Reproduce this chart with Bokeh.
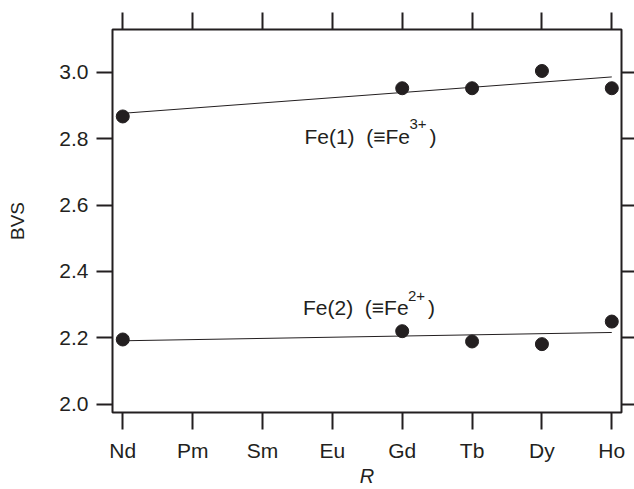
import numpy as np
from bokeh.plotting import figure
from bokeh.models import LinearAxis, FixedTicker, Range1d
from bokeh.core.properties import value
from bokeh.embed import file_html
from bokeh.resources import INLINE

# Rare-earth elements along the x axis
elements = ["Nd", "Pm", "Sm", "Eu", "Gd", "Tb", "Dy", "Ho"]

# Measured compounds (positions in the element list) and bond-valence sums
r_measured = ["Nd", "Gd", "Tb", "Dy", "Ho"]
bvs_fe1 = [2.867, 2.952, 2.952, 3.004, 2.952]
bvs_fe2 = [2.195, 2.220, 2.189, 2.181, 2.249]

y_ticks = [2.0, 2.2, 2.4, 2.6, 2.8, 3.0]
y_tick_labels = ["2.0", "2.2", "2.4", "2.6", "2.8", "3.0"]

FONT = "Liberation Sans"
INK = "#231f20"
NB = "\u00a0"

xi = np.array([elements.index(e) for e in r_measured], dtype=float)

p = figure(width=634, height=489, output_backend="svg", toolbar_location=None,
           x_axis_type=None, y_axis_type=None,
           x_range=Range1d(-0.147, 7.139), y_range=Range1d(1.975, 3.129),
           min_border_left=112, min_border_right=12,
           min_border_top=29, min_border_bottom=75)
p.grid.visible = False
p.outline_line_color = INK
p.outline_line_width = 2
p.background_fill_color = "white"
p.border_fill_color = "white"


def style_axis(ax, tick_out, show_labels):
    ax.axis_line_color = None
    ax.major_tick_in = 0
    ax.major_tick_out = tick_out
    ax.major_tick_line_width = 2
    ax.major_tick_line_color = INK
    ax.minor_tick_line_color = None
    ax.major_label_text_font = FONT
    ax.major_label_text_color = INK
    if show_labels:
        ax.major_label_text_font_size = "21px"
    else:
        ax.major_label_text_font_size = "0px"
        ax.major_label_standoff = 0


x_ticker = FixedTicker(ticks=list(range(len(elements))))
y_ticker = FixedTicker(ticks=y_ticks)
x_labels = {i: e for i, e in enumerate(elements)}
y_labels = dict(zip(y_ticks, y_tick_labels))

bottom = LinearAxis(ticker=x_ticker, major_label_overrides=x_labels, axis_label="R")
style_axis(bottom, 17, True)
bottom.major_label_standoff = 9
bottom.axis_label_text_font = FONT
bottom.axis_label_text_font_size = "20px"
bottom.axis_label_text_font_style = "italic"
bottom.axis_label_text_color = INK
bottom.axis_label_standoff = 0
p.add_layout(bottom, "below")

top = LinearAxis(ticker=x_ticker, major_label_overrides={i: "" for i in range(len(elements))})
style_axis(top, 17, False)
p.add_layout(top, "above")

left = LinearAxis(ticker=y_ticker, major_label_overrides=y_labels, axis_label="BVS")
style_axis(left, 16, True)
left.major_label_standoff = 8
left.axis_label_text_font = FONT
left.axis_label_text_font_size = "19px"
left.axis_label_text_font_style = "normal"
left.axis_label_text_color = INK
left.axis_label_standoff = 28
p.add_layout(left, "left")

right = LinearAxis(ticker=y_ticker, major_label_overrides={t: "" for t in y_ticks})
style_axis(right, 13, False)
p.add_layout(right, "right")

# Least-squares trend lines across the series
xs_fit = np.array([0.0, float(len(elements) - 1)])
for ys in (bvs_fe1, bvs_fe2):
    k, b = np.polyfit(xi, np.array(ys), 1)
    p.line(xs_fit, k * xs_fit + b, line_color=INK, line_width=1)

# Data points
p.scatter(xi, bvs_fe1, size=13, fill_color=INK, line_color=INK, marker="circle")
p.scatter(xi, bvs_fe2, size=13, fill_color=INK, line_color=INK, marker="circle")


# Site annotations with superscript charges
def site_label(x, y, main, charge):
    p.text([x], [y], text=[main], text_font=value(FONT), text_font_size="21px",
           text_color=INK, text_align="left", text_baseline="alphabetic")
    p.text([x], [y], text=[charge], text_font=value(FONT), text_font_size="15px",
           text_color=INK, text_align="left", text_baseline="alphabetic",
           x_offset=105, y_offset=-12)
    p.text([x], [y], text=[")"], text_font=value(FONT), text_font_size="21px",
           text_color=INK, text_align="left", text_baseline="alphabetic",
           x_offset=125)


site_label(2.60, 2.807, "Fe(1)" + NB + NB + "(\u2261Fe", "3+")
site_label(2.58, 2.290, "Fe(2)" + NB + NB + "(\u2261Fe", "2+")

open("out.html", "w").write(file_html(p, INLINE))
